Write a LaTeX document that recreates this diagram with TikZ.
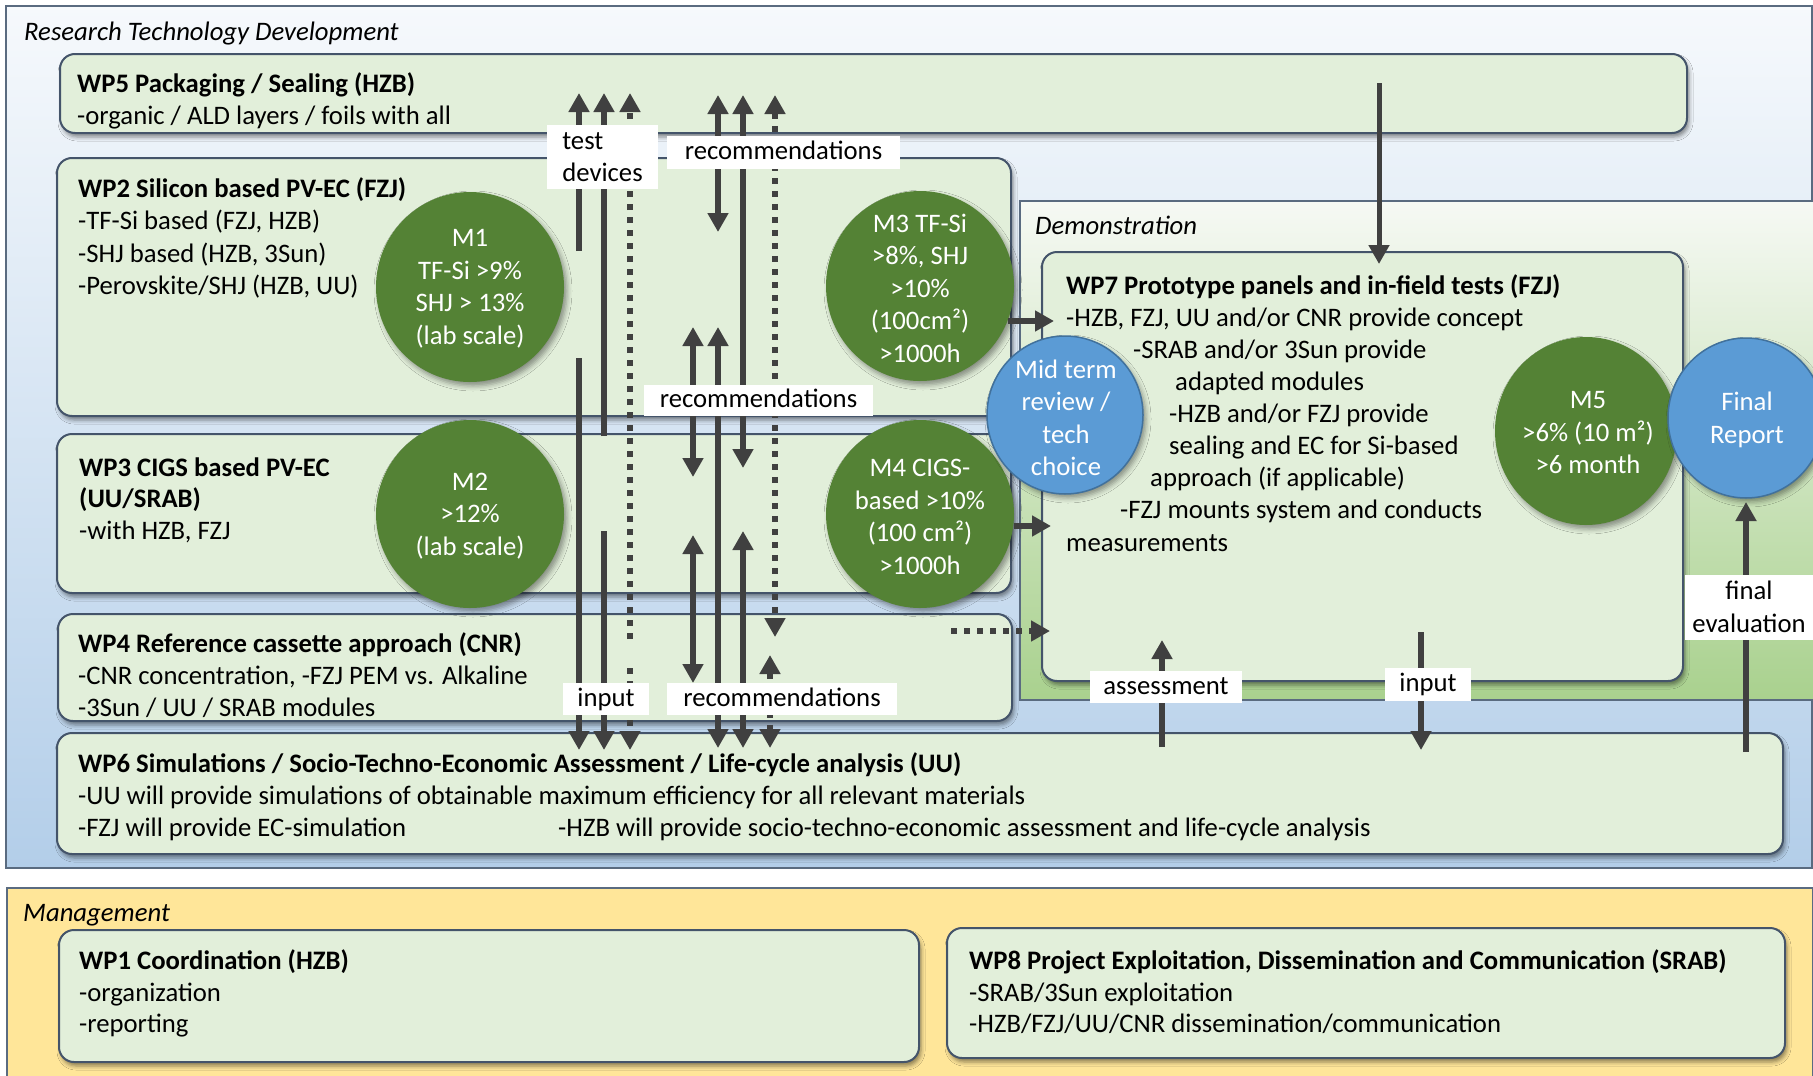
\documentclass[tikz,border=0pt]{standalone}
\usepackage{fontspec}
\setmainfont{Carlito}
\usetikzlibrary{arrows.meta,shapes.geometric,shadows.blur}
\definecolor{boxfill}{HTML}{E2EFDA}
\definecolor{boxline}{HTML}{44546A}
\definecolor{regline}{HTML}{5A6B80}
\definecolor{mgreen}{HTML}{548235}
\definecolor{mblue}{HTML}{5B9BD5}
\definecolor{mblueline}{HTML}{41719C}
\definecolor{arr}{HTML}{404040}
\definecolor{mgmt}{HTML}{FFE699}
\definecolor{rtdtop}{HTML}{F6F9FC}
\definecolor{rtdbot}{HTML}{B3CEE9}
\definecolor{demotop}{HTML}{F6F9F4}
\definecolor{demobot}{HTML}{A9D18E}
\newcommand{\fsz}{\fontsize{26.7}{32.5}\selectfont}
\begin{document}
\begin{tikzpicture}[x=1pt,y=-1pt,
  txt/.style={font=\fsz, anchor=west, inner sep=0pt, text height=18pt, text depth=0pt},
  ttl/.style={txt, font=\fsz\bfseries},
  ital/.style={txt, font=\fsz\itshape},
  region/.style={draw=regline, line width=2pt, inner sep=0pt, anchor=north west},
  wpbox/.style={draw=boxline, line width=2pt, fill=boxfill, rounded corners=15pt, inner sep=0pt, anchor=north west,
     blur shadow={shadow xshift=2pt, shadow yshift=-4pt, shadow blur radius=4pt, shadow opacity=45}},
  mile/.style={ellipse, fill=mgreen, inner sep=0pt,
     blur shadow={shadow xshift=3pt, shadow yshift=-4pt, shadow blur radius=5pt, shadow opacity=40}},
  bluec/.style={ellipse, fill=mblue, draw=mblueline, line width=1.5pt, inner sep=0pt,
     blur shadow={shadow xshift=3pt, shadow yshift=-4pt, shadow blur radius=5pt, shadow opacity=40}},
  mtext/.style={font=\fsz, text=white, align=center, inner sep=0pt},
  lab/.style={fill=white, inner sep=0pt, font=\fsz},
  lab1/.style={lab, text height=18pt, text depth=4pt},
  conn/.style={draw=arr, line width=6pt},
  dots/.style={conn, line width=6pt, dash pattern=on 6pt off 7pt},
  >={Triangle[width=20pt,length=19pt]}
]
\useasboundingbox (0,0) rectangle (1813,1076);

% regions
\node[region, top color=rtdtop, bottom color=rtdbot, minimum width=1806pt, minimum height=862pt] (rtd) at (5,5) {};
\node[region, top color=demotop, bottom color=demobot, minimum width=800pt, minimum height=499pt] (demo) at (1019,200) {};
\node[region, fill=mgmt, minimum width=1806pt, minimum height=200pt] (mgmt) at (6,887) {};
\node[ital] (rtdlab) at (24,31) {Research Technology Development};
\node[ital] (demolab) at (1035,225) {Demonstration};
\node[ital] (mgmtlab) at (23,912) {Management};

% work package boxes
\node[wpbox, minimum width=1627pt, minimum height=79pt] (wp5) at (59,53) {};
\node[wpbox, minimum width=954pt, minimum height=258pt] (wp2) at (56,157) {};
\node[wpbox, minimum width=954pt, minimum height=159pt] (wp3) at (56,433) {};
\node[wpbox, minimum width=954pt, minimum height=107pt] (wp4) at (57,613) {};
\node[wpbox, minimum width=1726pt, minimum height=121pt] (wp6) at (56,732) {};
\node[wpbox, minimum width=641pt, minimum height=429pt] (wp7) at (1041,251) {};
\node[wpbox, minimum width=860pt, minimum height=132pt] (wp1) at (58,929) {};
\node[wpbox, minimum width=838pt, minimum height=130pt] (wp8) at (946,927) {};

% texts
\node[ttl] (wp5t) at (77,83) {WP5 Packaging / Sealing (HZB)};
\node[txt] (wp5a) at (77,115) {-organic / ALD layers / foils with all};

\node[ttl] (wp2t) at (78,188) {WP2 Silicon based PV-EC (FZJ)};
\node[txt] (wp2a) at (78,220) {-TF-Si based (FZJ, HZB)};
\node[txt] (wp2b) at (78,253) {-SHJ based (HZB, 3Sun)};
\node[txt] (wp2c) at (78,285) {-Perovskite/SHJ (HZB, UU)};

\node[ttl] (wp3t) at (79,467) {WP3 CIGS based PV-EC};
\node[ttl] (wp3u) at (79,498) {(UU/SRAB)};
\node[txt] (wp3a) at (79,530) {-with HZB, FZJ};

\node[ttl] (wp4t) at (78,643) {WP4 Reference cassette approach (CNR)};
\node[txt] (wp4a) at (78,675) {-CNR concentration, -FZJ PEM vs. Alkaline};
\node[txt] (wp4b) at (78,707) {-3Sun / UU / SRAB modules};

\node[ttl] (wp6t) at (78,763) {WP6 Simulations / Socio-Techno-Economic Assessment / Life-cycle analysis (UU)};
\node[txt] (wp6a) at (78,795) {-UU will provide simulations of obtainable maximum efficiency for all relevant materials};
\node[txt] (wp6b) at (78,827) {-FZJ will provide EC-simulation};
\node[txt] (wp6c) at (558,827) {-HZB will provide socio-techno-economic assessment and life-cycle analysis};

\node[ttl] (wp7t) at (1066,285) {WP7 Prototype panels and in-field tests (FZJ)};
\node[txt] (wp7a) at (1066,317) {-HZB, FZJ, UU and/or CNR provide concept};
\node[txt] (wp7b) at (1133,349) {-SRAB and/or 3Sun provide};
\node[txt] (wp7c) at (1175,381) {adapted modules};
\node[txt] (wp7d) at (1169,413) {-HZB and/or FZJ provide};
\node[txt] (wp7e) at (1169,445) {sealing and EC for Si-based};
\node[txt] (wp7f) at (1150,477) {approach (if applicable)};
\node[txt] (wp7g) at (1120,509) {-FZJ mounts system and conducts};
\node[txt] (wp7h) at (1066,542) {measurements};

\node[ttl] (wp1t) at (79,960) {WP1 Coordination (HZB)};
\node[txt] (wp1a) at (79,992) {-organization};
\node[txt] (wp1b) at (79,1023) {-reporting};

\node[ttl] (wp8t) at (969,960) {WP8 Project Exploitation, Dissemination and Communication (SRAB)};
\node[txt] (wp8a) at (969,992) {-SRAB/3Sun exploitation};
\node[txt] (wp8b) at (969,1023) {-HZB/FZJ/UU/CNR dissemination/communication};

% milestones
\node[mile, minimum width=188pt, minimum height=190pt] (m1) at (470,287) {};
\node[mtext] (m1t) at (470,289) {M1\\TF-Si >9\%\\SHJ > 13\%\\(lab scale)};
\node[mile, minimum width=188pt, minimum height=188pt] (m2) at (470,514) {};
\node[mtext] (m2t) at (470,516) {M2\\>12\%\\(lab scale)};
\node[mile, minimum width=188pt, minimum height=190pt] (m3) at (920,286) {};
\node[mtext] (m3t) at (920,288) {M3 TF-Si\\>8\%, SHJ\\>10\%\\(100cm²)\\>1000h};
\node[mile, minimum width=188pt, minimum height=188pt] (m4) at (920,514) {};
\node[mtext] (m4t) at (920,517) {M4 CIGS-\\based >10\%\\(100 cm²)\\>1000h};
\node[mile, minimum width=182pt, minimum height=188pt] (m5) at (1586,431) {};
\node[mtext] (m5t) at (1588,433) {M5\\>6\% (10 m²)\\>6 month};
\node[bluec, minimum width=156pt, minimum height=158pt] (mid) at (1065,415) {};
\node[mtext] (midt) at (1066,418) {Mid term\\review /\\tech\\choice};
\node[bluec, minimum width=156pt, minimum height=160pt] (fin) at (1746,418) {};
\node[mtext] (fint) at (1747,420) {Final\\Report};

% arrow end points
\coordinate (a1s) at (579,251); \coordinate (a1e) at (579,93);
\coordinate (b1s) at (579,358); \coordinate (b1e) at (579,750);
\coordinate (a2s) at (604,436); \coordinate (a2e) at (604,93);
\coordinate (b2s) at (604,531); \coordinate (b2e) at (604,750);
\coordinate (a3s) at (630,639); \coordinate (a3e) at (630,93);
\coordinate (b3s) at (630,668); \coordinate (b3e) at (630,750);
\coordinate (r1a) at (718,95); \coordinate (r1b) at (718,232);
\coordinate (r2a) at (743,95); \coordinate (r2b) at (743,468);
\coordinate (r3a) at (775,95); \coordinate (r3b) at (775,637);
\coordinate (r4a) at (693,327); \coordinate (r4b) at (693,477);
\coordinate (r5a) at (718,327); \coordinate (r5b) at (718,748);
\coordinate (r6a) at (693,535); \coordinate (r6b) at (693,683);
\coordinate (r7a) at (743,531); \coordinate (r7b) at (743,748);
\coordinate (r8a) at (770,655); \coordinate (r8b) at (770,748);
\coordinate (p5s) at (1379,83); \coordinate (p5e) at (1379,264);
\coordinate (m3s) at (1008,321); \coordinate (m3e) at (1054,321);
\coordinate (m4s) at (1014,526); \coordinate (m4e) at (1051,526);
\coordinate (w4s) at (951,631); \coordinate (w4e) at (1050,631);
\coordinate (ass) at (1162,747); \coordinate (ase) at (1162,640);
\coordinate (ins) at (1421,632); \coordinate (ine) at (1421,750);
\coordinate (fes) at (1746,752); \coordinate (fee) at (1746,502);

% arrows
\draw[conn,->] (a1s) -- (a1e);
\draw[conn,->] (b1s) -- (b1e);
\draw[conn,->] (a2s) -- (a2e);
\draw[conn,->] (b2s) -- (b2e);
\draw[dots,->] (a3s) -- (a3e);
\draw[dots,->] (b3s) -- (b3e);
\draw[conn,<->] (r1a) -- (r1b);
\draw[conn,<->] (r2a) -- (r2b);
\draw[dots,<->] (r3a) -- (r3b);
\draw[conn,<->] (r4a) -- (r4b);
\draw[conn,<->] (r5a) -- (r5b);
\draw[conn,<->] (r6a) -- (r6b);
\draw[conn,<->] (r7a) -- (r7b);
\draw[dots,<->] (r8a) -- (r8b);
\draw[conn,line width=5pt,->] (p5s) -- (p5e);
\draw[conn,->] (m3s) -- (m3e);
\draw[conn,->] (m4s) -- (m4e);
\draw[dots,->] (w4s) -- (w4e);
\draw[conn,->] (ass) -- (ase);
\draw[conn,->] (ins) -- (ine);
\draw[conn,->] (fes) -- (fee);

% labels
\node[lab, minimum width=111pt, minimum height=64pt, align=left] (ltd) at (602.5,157) {test\\devices};
\node[lab1, minimum width=233pt, minimum height=33pt] (lr1) at (783.5,152.5) {recommendations};
\node[lab1, minimum width=229pt, minimum height=31pt] (lr2) at (758.5,400.5) {recommendations};
\node[lab1, minimum width=86pt, minimum height=32pt] (lin1) at (606,699) {input};
\node[lab1, minimum width=230pt, minimum height=32pt] (lr3) at (782,699) {recommendations};
\node[lab1, minimum width=152pt, minimum height=32pt] (las) at (1166,687) {assessment};
\node[lab1, minimum width=86pt, minimum height=33pt] (lin2) at (1428,684.5) {input};
\node[lab, minimum width=128pt, minimum height=65pt, align=center] (lfe) at (1749,607) {final\\evaluation};
\end{tikzpicture}
\end{document}
